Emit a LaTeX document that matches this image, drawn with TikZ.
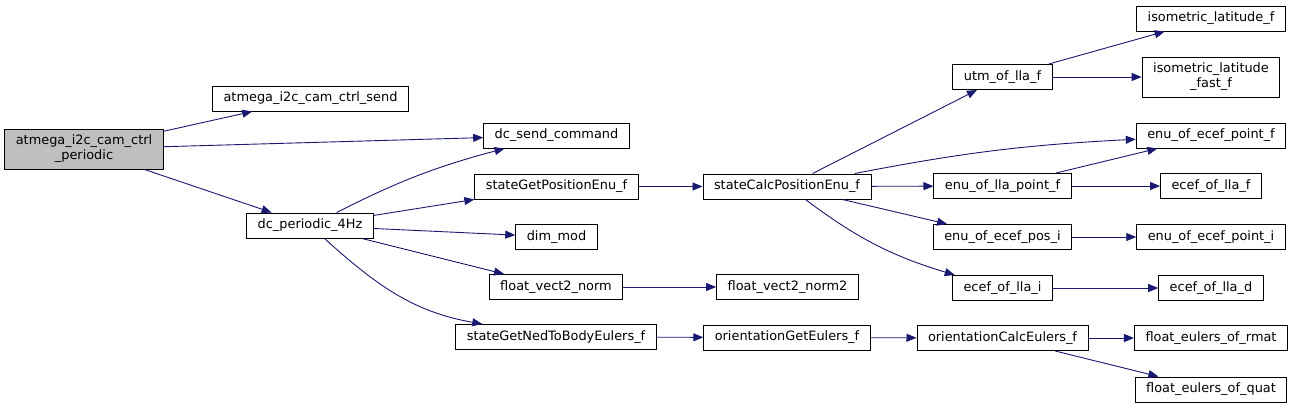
\documentclass[tikz,border=0pt]{standalone}
\usepackage{fontspec}
\setmainfont{DejaVu Sans}
\usepackage{xcolor}
\usetikzlibrary{arrows.meta}
\definecolor{edgeblue}{HTML}{191970}
\definecolor{rootgray}{HTML}{BFBFBF}
\newcommand{\fntight}{\fontsize{12.9pt}{15pt}\selectfont}
\tikzset{
  callarr/.style={-{Triangle[length=10pt,width=8pt]}, line width=0.9pt, color=edgeblue},
  fnnode/.style={draw, line width=1pt, inner xsep=11pt, inner ysep=2pt, minimum height=25pt, font=\fntight, align=center}
}

\begin{document}
\begin{tikzpicture}[x=1pt,y=1pt]
  \useasboundingbox (0,0) rectangle (1293,-408);
  \node[fnnode,fill=rootgray,minimum height=40pt] (root) at (84,-149) {atmega\_i2c\_cam\_ctrl\\\_periodic};
  \node[fnnode] (camsend) at (310.5,-98.5) {atmega\_i2c\_cam\_ctrl\_send};
  \node[fnnode] (dcper) at (310,-225.5) {dc\_periodic\_4Hz};
  \node[fnnode] (dcsend) at (556.5,-135.5) {dc\_send\_command};
  \node[fnnode] (getpos) at (556.5,-186.5) {stateGetPositionEnu\_f};
  \node[fnnode] (dimmod) at (556.5,-237) {dim\_mod};
  \node[fnnode] (vnorm) at (556,-287) {float\_vect2\_norm};
  \node[fnnode] (getned) at (556,-337) {stateGetNedToBodyEulers\_f};
  \node[fnnode] (calcpos) at (787,-186.5) {stateCalcPositionEnu\_f};
  \node[fnnode] (vnormsq) at (787.5,-287) {float\_vect2\_norm2};
  \node[fnnode] (geteul) at (787,-337.5) {orientationGetEulers\_f};
  \node[fnnode] (utm) at (1002.5,-77) {utm\_of\_lla\_f};
  \node[fnnode] (llapt) at (1002.5,-186) {enu\_of\_lla\_point\_f};
  \node[fnnode] (posi) at (1002.5,-237) {enu\_of\_ecef\_pos\_i};
  \node[fnnode] (llai) at (1002.5,-288) {ecef\_of\_lla\_i};
  \node[fnnode] (calceul) at (1002.5,-338) {orientationCalcEulers\_f};
  \node[fnnode] (isolat) at (1211,-18.5) {isometric\_latitude\_f};
  \node[fnnode,minimum height=40pt] (isofast) at (1211,-77) {isometric\_latitude\\\_fast\_f};
  \node[fnnode] (ptf) at (1211,-135.5) {enu\_of\_ecef\_point\_f};
  \node[fnnode] (llaf) at (1211,-186) {ecef\_of\_lla\_f};
  \node[fnnode] (pti) at (1211,-237) {enu\_of\_ecef\_point\_i};
  \node[fnnode] (llad) at (1211,-288) {ecef\_of\_lla\_d};
  \node[fnnode] (rmat) at (1211,-338) {float\_eulers\_of\_rmat};
  \node[fnnode] (quat) at (1211,-389.5) {float\_eulers\_of\_quat};

  \draw[callarr] (root)--(camsend);
  \draw[callarr] (root)--(dcsend);
  \draw[callarr] (root)--(dcper);
  \draw[callarr] (dcper) to[bend left=6] (dcsend);
  \draw[callarr] (dcper)--(getpos);
  \draw[callarr] (dcper)--(dimmod);
  \draw[callarr] (dcper)--(vnorm);
  \draw[callarr] (dcper) to[out=-42,in=170] (getned);
  \draw[callarr] (getpos)--(calcpos);
  \draw[callarr] (vnorm)--(vnormsq);
  \draw[callarr] (getned)--(geteul);
  \draw[callarr] (geteul)--(calceul);
  \draw[callarr] (calcpos)--(utm);
  \draw[callarr] (calcpos) to[bend left=4] (ptf);
  \draw[callarr] (calcpos)--(llapt);
  \draw[callarr] (calcpos)--(posi);
  \draw[callarr] (calcpos) to[bend right=10] (llai);
  \draw[callarr] (utm)--(isolat);
  \draw[callarr] (utm)--(isofast);
  \draw[callarr] (llapt)--(ptf);
  \draw[callarr] (llapt)--(llaf);
  \draw[callarr] (posi)--(pti);
  \draw[callarr] (llai)--(llad);
  \draw[callarr] (calceul)--(rmat);
  \draw[callarr] (calceul)--(quat);
\end{tikzpicture}
\end{document}
